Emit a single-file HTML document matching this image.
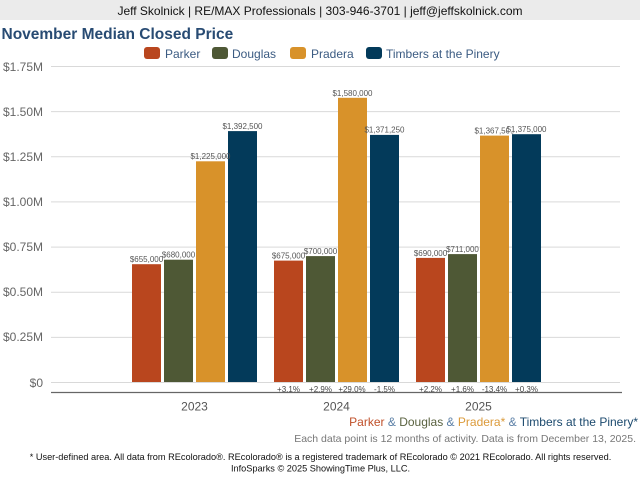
<!DOCTYPE html>
<html><head><meta charset="utf-8"><style>
html,body{margin:0;padding:0;background:#fff;}
svg{display:block;font-family:"Liberation Sans",Arial,sans-serif;}
</style></head><body>
<svg width="640" height="480" viewBox="0 0 640 480" xmlns="http://www.w3.org/2000/svg">
<rect x="0" y="0" width="640" height="20" fill="#ebebeb"/>
<text x="320" y="15" font-size="12" fill="#111" text-anchor="middle">Jeff Skolnick | RE/MAX Professionals | 303-946-3701 | jeff@jeffskolnick.com</text>
<text x="1.5" y="39" font-size="15.5" font-weight="bold" fill="#284B73">November Median Closed Price</text>
<!-- legend -->
<rect x="144" y="47" width="16" height="12" rx="3" fill="#B9461E"/>
<text x="165" y="58" font-size="12" fill="#3B5B82">Parker</text>
<rect x="212" y="47" width="16" height="12" rx="3" fill="#4E5835"/>
<text x="232" y="58" font-size="12" fill="#3B5B82">Douglas</text>
<rect x="290" y="47" width="16" height="12" rx="3" fill="#D8922A"/>
<text x="311" y="58" font-size="12" fill="#3B5B82">Pradera</text>
<rect x="366" y="47" width="16" height="12" rx="3" fill="#033A5A"/>
<text x="386" y="58" font-size="12" fill="#3B5B82">Timbers at the Pinery</text>
<!-- gridlines -->
<g stroke="#d9d9d9" stroke-width="1">
<line x1="51" y1="66.5" x2="620" y2="66.5"/>
<line x1="51" y1="111.6" x2="620" y2="111.6"/>
<line x1="51" y1="156.8" x2="620" y2="156.8"/>
<line x1="51" y1="201.9" x2="620" y2="201.9"/>
<line x1="51" y1="247.1" x2="620" y2="247.1"/>
<line x1="51" y1="292.2" x2="620" y2="292.2"/>
<line x1="51" y1="337.4" x2="620" y2="337.4"/>
<line x1="51" y1="382.5" x2="620" y2="382.5"/>
</g>
<g font-size="12" fill="#666" text-anchor="end">
<text x="43" y="71">$1.75M</text>
<text x="43" y="116">$1.50M</text>
<text x="43" y="161">$1.25M</text>
<text x="43" y="206">$1.00M</text>
<text x="43" y="251">$0.75M</text>
<text x="43" y="296">$0.50M</text>
<text x="43" y="341">$0.25M</text>
<text x="43" y="387">$0</text>
</g>
<!-- bars -->
<g>
<rect x="132" y="264.2" width="29" height="117.8" fill="#B9461E"/>
<rect x="164" y="259.7" width="29" height="122.3" fill="#4E5835"/>
<rect x="196" y="161.3" width="29" height="220.7" fill="#D8922A"/>
<rect x="228" y="131.1" width="29" height="250.9" fill="#033A5A"/>
<rect x="274" y="260.6" width="29" height="121.4" fill="#B9461E"/>
<rect x="306" y="256.1" width="29" height="125.9" fill="#4E5835"/>
<rect x="338" y="97.8" width="29" height="284.2" fill="#D8922A"/>
<rect x="370" y="134.9" width="29" height="247.1" fill="#033A5A"/>
<rect x="416" y="257.9" width="29" height="124.1" fill="#B9461E"/>
<rect x="448" y="254.1" width="29" height="127.9" fill="#4E5835"/>
<rect x="480" y="135.6" width="29" height="246.4" fill="#D8922A"/>
<rect x="512" y="134.2" width="29" height="247.8" fill="#033A5A"/>
</g>
<!-- value labels -->
<g font-size="8" fill="#555" text-anchor="middle">
<text x="146.5" y="262">$655,000</text>
<text x="178.5" y="257.5">$680,000</text>
<text x="210.5" y="159">$1,225,000</text>
<text x="242.5" y="129">$1,392,500</text>
<text x="288.5" y="258.5">$675,000</text>
<text x="320.5" y="254">$700,000</text>
<text x="352.5" y="96">$1,580,000</text>
<text x="384.5" y="132.5">$1,371,250</text>
<text x="430.5" y="256">$690,000</text>
<text x="462.5" y="252">$711,000</text>
<text x="494.5" y="133.5">$1,367,500</text>
<rect x="508" y="125.5" width="31" height="7" fill="#fff"/>
<text x="526.5" y="132">$1,375,000</text>
</g>
<!-- axis -->
<line x1="51" y1="392.5" x2="622" y2="392.5" stroke="#666" stroke-width="1.2"/>
<g font-size="8" fill="#444" text-anchor="middle">
<text x="288.5" y="392">+3.1%</text>
<text x="320.5" y="392">+2.9%</text>
<text x="352" y="392">+29.0%</text>
<text x="384.5" y="392">-1.5%</text>
<text x="430.5" y="392">+2.2%</text>
<text x="462.5" y="392">+1.6%</text>
<text x="494.5" y="392">-13.4%</text>
<text x="526.5" y="392">+0.3%</text>
</g>
<g font-size="12" fill="#555" text-anchor="middle">
<text x="194.5" y="410.5">2023</text>
<text x="336.5" y="410.5">2024</text>
<text x="478.5" y="410.5">2025</text>
</g>
<text x="638" y="426" font-size="12" text-anchor="end"><tspan fill="#C0502A">Parker</tspan><tspan fill="#5B7FA6"> &amp; </tspan><tspan fill="#5A6240">Douglas</tspan><tspan fill="#5B7FA6"> &amp; </tspan><tspan fill="#DB9A3A">Pradera*</tspan><tspan fill="#5B7FA6"> &amp; </tspan><tspan fill="#1C4A6E">Timbers at the Pinery*</tspan></text>
<text x="636" y="442" font-size="10.5" fill="#777" text-anchor="end">Each data point is 12 months of activity. Data is from December 13, 2025.</text>
<text x="320.5" y="460" font-size="9.2" fill="#111" text-anchor="middle">* User-defined area. All data from REcolorado®. REcolorado® is a registered trademark of REcolorado © 2021 REcolorado. All rights reserved.</text>
<text x="320.5" y="471.5" font-size="9.2" fill="#111" text-anchor="middle">InfoSparks © 2025 ShowingTime Plus, LLC.</text>
</svg>
</body></html>
